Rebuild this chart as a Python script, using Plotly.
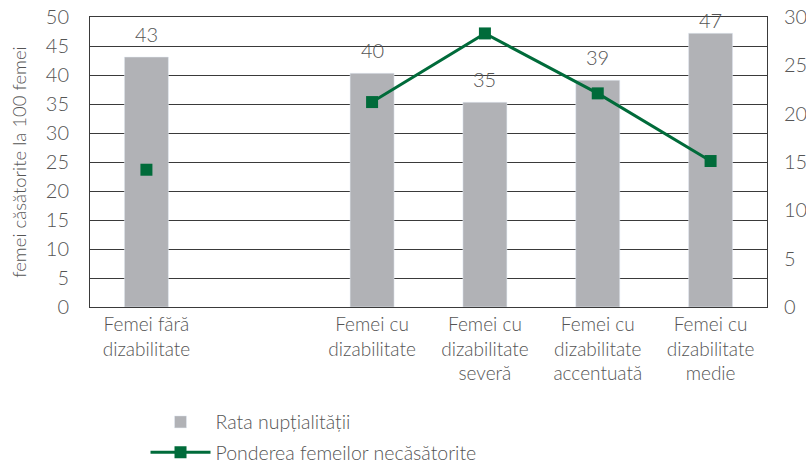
import plotly.graph_objects as go

categories = [
    "Femei fără<br>dizabilitate",
    " ",
    "Femei cu<br>dizabilitate",
    "Femei cu<br>dizabilitate<br>severă",
    "Femei cu<br>dizabilitate<br>accentuată",
    "Femei cu<br>dizabilitate<br>medie",
]
rata = [43.1, None, 40.3, 35.3, 39.1, 47.2]
rata_labels = ["43", "", "40", "35", "39", "47"]
ponderea = [14.2, None, 21.2, 28.3, 22.1, 15.1]

FONT = "Lato"
TXT = "#555555"
GRID = "#3a3a3a"


def lfont(size):
    return dict(family=FONT, size=size, color=TXT, weight=300)


fig = go.Figure()
fig.add_trace(go.Bar(
    x=categories, y=rata, name="Rata nupțialității", legendgroup="a",
    marker_color="#b1b2b6", width=0.39,
))
fig.add_trace(go.Scatter(
    x=categories, y=ponderea, name="Ponderea femeilor necăsătorite",
    legendgroup="b", mode="lines+markers", yaxis="y2", connectgaps=False,
    line=dict(color="#006b3a", width=3),
    marker=dict(symbol="square", size=12, color="#006b3a"),
))

# value labels above the bars (the tallest one is kept inside the frame)
for cat, v, lab in zip(categories, rata, rata_labels):
    if v is None:
        continue
    fig.add_annotation(
        x=cat, y=min(v + 4, 49.5), text=lab, showarrow=False,
        yanchor="middle", font=lfont(20),
    )

fig.update_layout(
    width=806, height=464,
    margin=dict(l=90, r=39, t=17, b=157, autoexpand=False),
    plot_bgcolor="white", paper_bgcolor="white",
    font=lfont(18),
    bargap=0.6,
    showlegend=True,
    legend=dict(
        x=0.082, y=-0.33, xanchor="left", yanchor="top",
        orientation="v", font=lfont(19.5),
        traceorder="grouped", tracegroupgap=2, itemwidth=60,
    ),
    xaxis=dict(
        type="category", showgrid=False, showline=True,
        linecolor=GRID, linewidth=1, mirror=True,
        tickfont=lfont(19), ticks="",
        automargin=False,
    ),
    yaxis=dict(
        range=[0, 50], dtick=5, showgrid=True, gridcolor=GRID, gridwidth=1,
        showline=True, linecolor=GRID, linewidth=1, zeroline=False,
        tickfont=lfont(20), ticklabelstandoff=16,
        automargin=False,
        title=dict(text="femei căsătorite la 100 femei",
                   font=lfont(18.5), standoff=14),
    ),
    yaxis2=dict(
        range=[0, 30], dtick=5, overlaying="y", side="right",
        showgrid=False, showline=True, linecolor=GRID, linewidth=1,
        zeroline=False, tickfont=lfont(20),
        ticklabelstandoff=12, automargin=False,
    ),
)

# drop the page's default body margin so the figure sits at the window corner
fig.write_html(
    "out.html",
    config={"displayModeBar": False},
    post_script="document.body.style.margin='0';",
)
